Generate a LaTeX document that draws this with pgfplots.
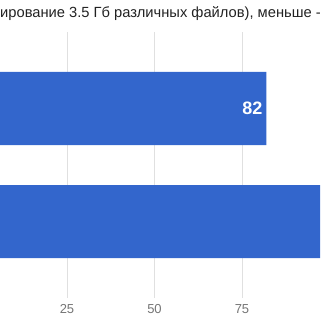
\documentclass[border=0pt]{standalone}
\usepackage{pgfplots}
\pgfplotsset{compat=1.18}
\usepackage{fontspec}
\setmainfont{Liberation Sans}
\definecolor{barblue}{HTML}{3366CC}
\definecolor{gridgray}{HTML}{E0E0E0}
\definecolor{ticktext}{HTML}{757575}
\definecolor{titletext}{HTML}{222222}
\begin{document}
\begin{tikzpicture}
\path[use as bounding box] (0pt,0pt) rectangle (320pt,320pt);
\begin{axis}[
  at={(0pt,22pt)}, anchor=south west,
  scale only axis, width=320pt, height=266pt,
  xbar, bar width=73pt,
  xmin=5.857, xmax=97.286,
  ymin=-0.677, ymax=1.677, y dir=reverse,
  ytick=\empty,
  xtick={0,25,50,75,100},
  xmajorgrids, grid style={gridgray, line width=0.8pt},
  axis line style={draw=none}, major tick style={draw=none},
  /pgf/number format/assume math mode=true,
  xticklabel style={font=\fontsize{13}{15}\selectfont, text=ticktext, yshift=-3pt},
  nodes near coords,
  point meta=x,
  every node near coord/.append style={anchor=east, xshift=-0.5pt, text=white, font=\fontsize{18}{20}\selectfont\bfseries},
]
\addplot[fill=barblue, draw=none] coordinates {(82,0) (110,1)};
\end{axis}
\node[anchor=base west, inner sep=0pt, text=titletext, font=\fontsize{14.7}{17}\selectfont] at (0pt,302pt) {ирование 3.5 Гб различных файлов), меньше -};
\end{tikzpicture}
\end{document}
